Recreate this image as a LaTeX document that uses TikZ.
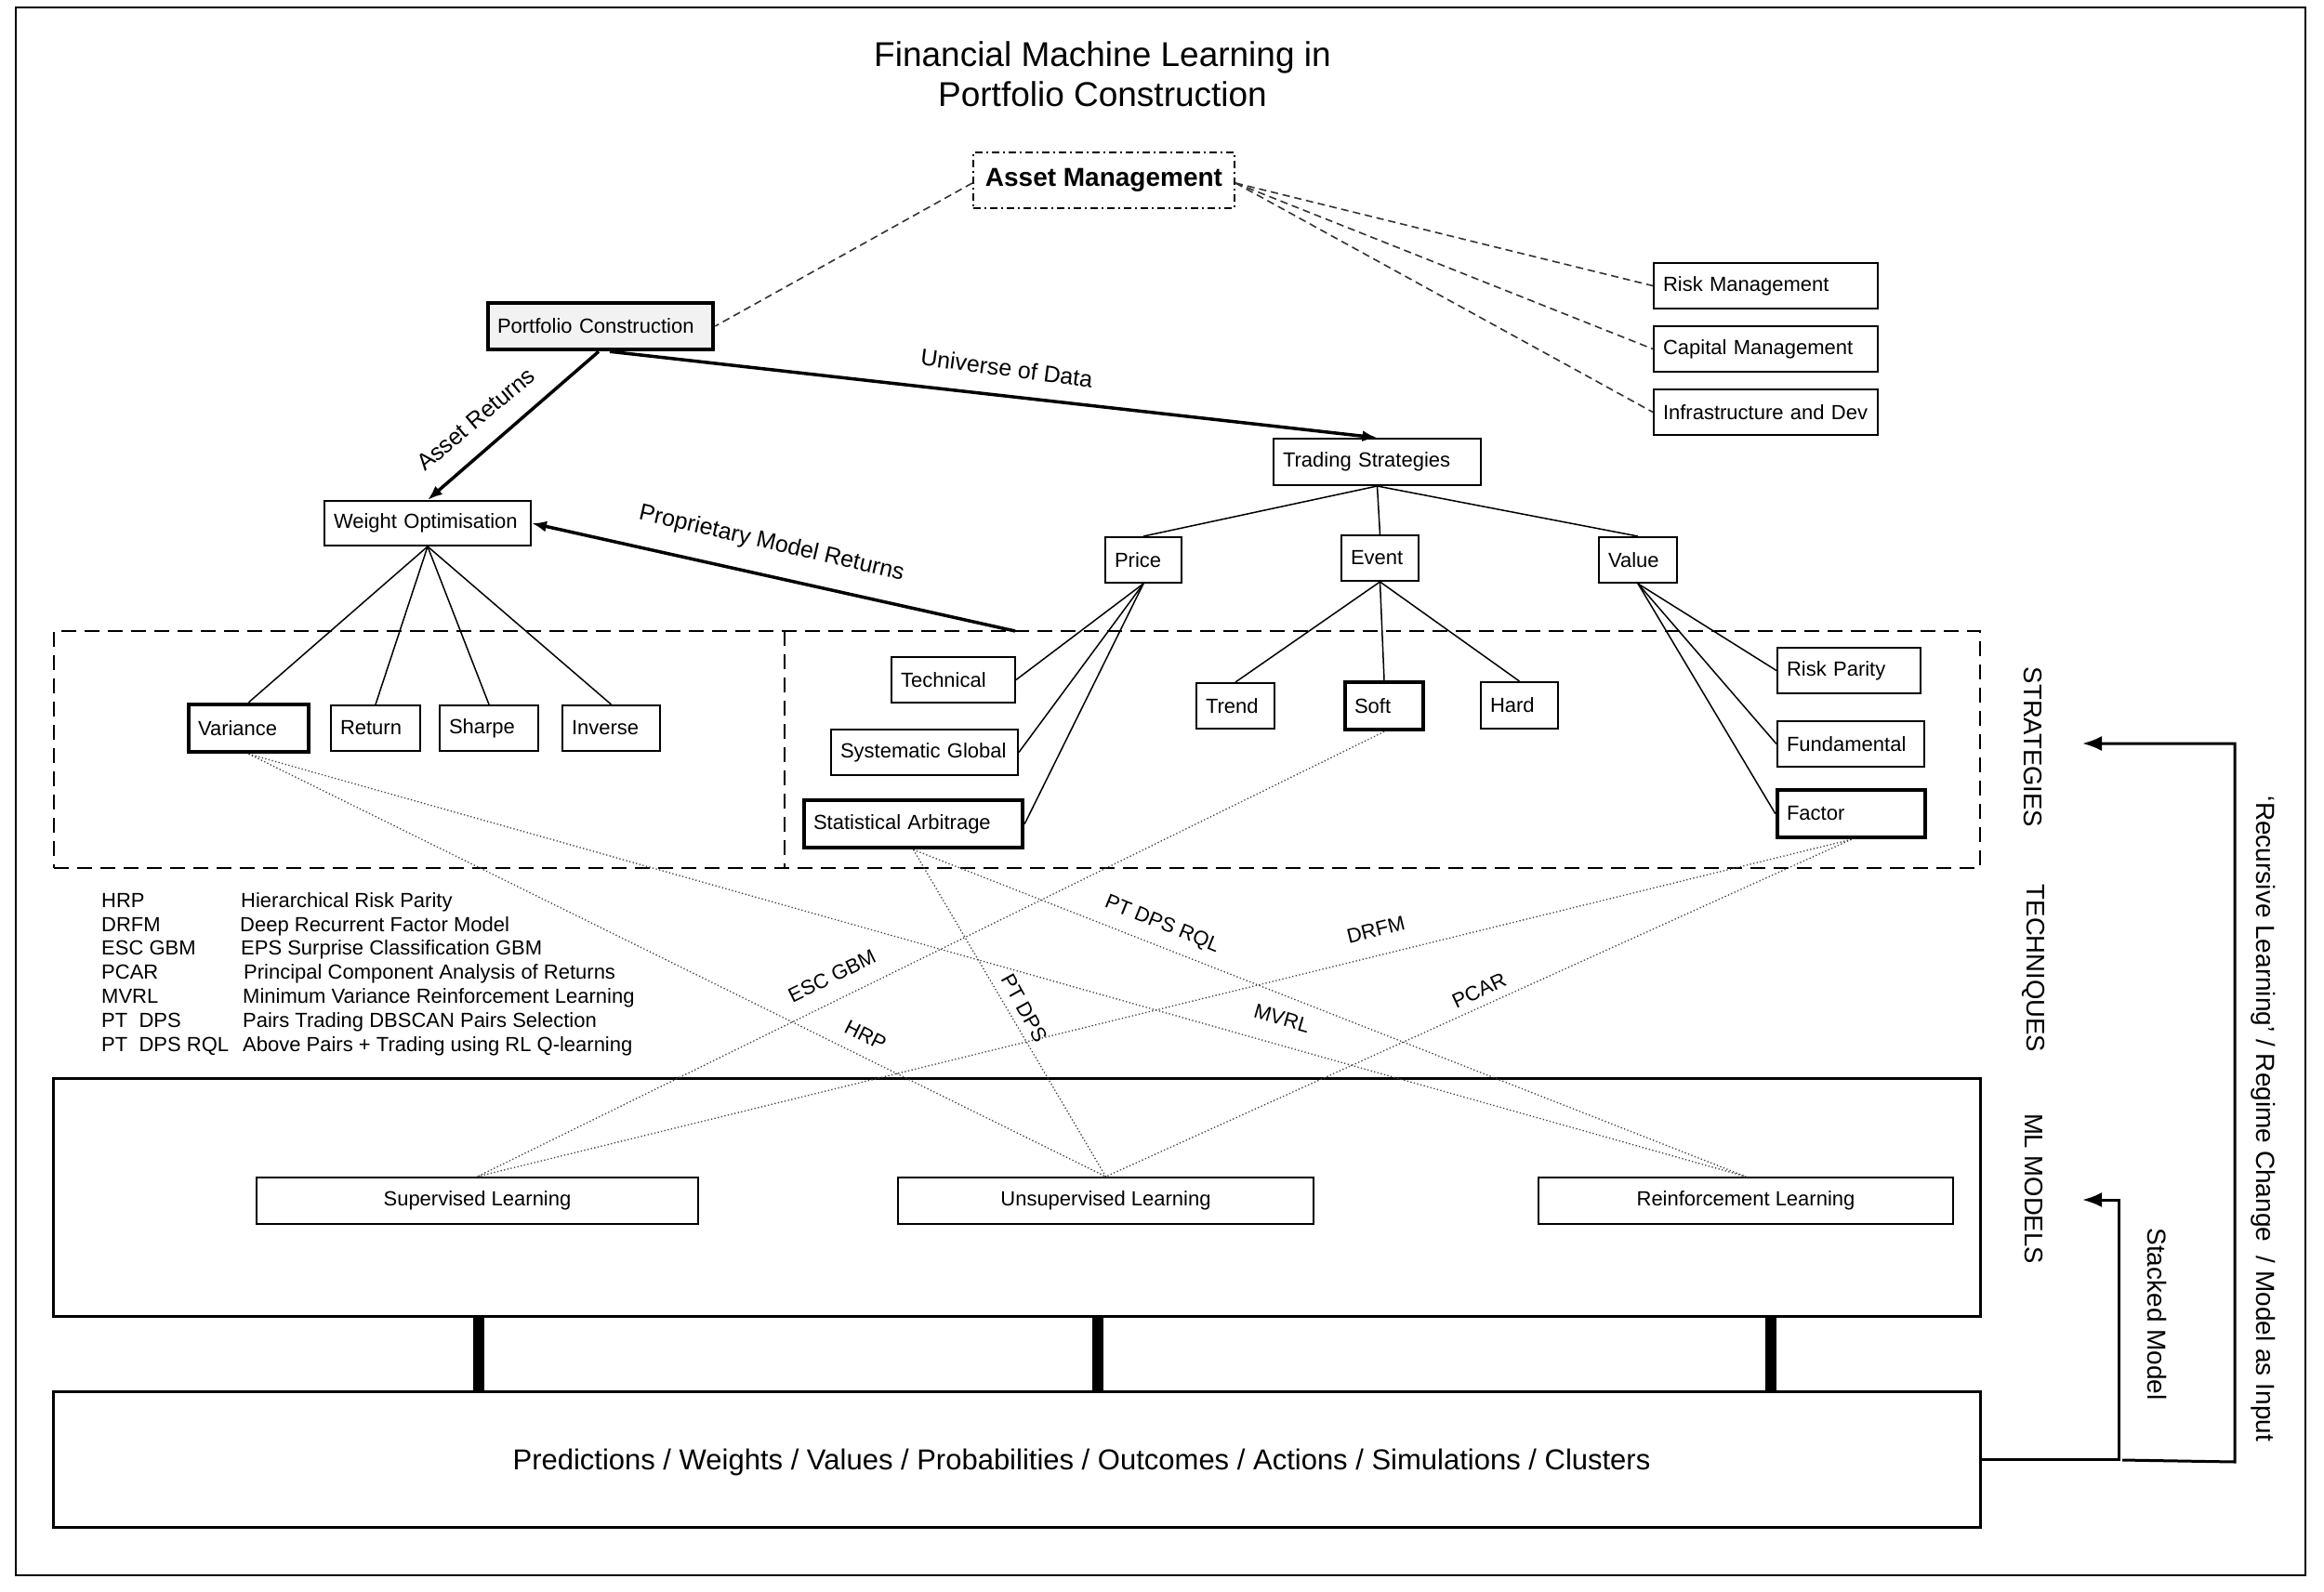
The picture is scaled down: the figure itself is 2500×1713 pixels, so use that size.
\documentclass[tikz,border=0pt]{standalone}
\usepackage{fontspec}
\setmainfont{Liberation Sans}
\usetikzlibrary{arrows.meta,calc}
\begin{document}
\begin{tikzpicture}[x=1pt,y=-1pt]
\tikzset{
  every node/.style={font=\fontsize{22}{26}\selectfont},
  box/.style={draw, line width=2pt, inner xsep=10pt, inner ysep=0pt, align=left},
  tbox/.style={box, line width=4.5pt},
  cbox/.style={draw, line width=2pt, inner sep=0pt, align=center},
  tree/.style={line width=1.5pt},
  amdash/.style={line width=1.6pt, black!80, dash pattern=on 8pt off 5pt},
  dotl/.style={line width=1.3pt, black!75, dash pattern=on 1.3pt off 2.4pt},
  bigarrow/.style={line width=3.5pt, -{Latex[length=16pt,width=12pt]}},
  fbarrow/.style={line width=3pt, -{Latex[length=21pt,width=16pt]}},
  elab/.style={font=\fontsize{25}{30}\selectfont},
  dlab/.style={font=\fontsize{22}{26}\selectfont},
  vlab/.style={rotate=-90, font=\fontsize{27.5}{32}\selectfont},
  barline/.style={line width=12pt},
  leg/.style={anchor=base west, inner sep=0pt},
  dashregion/.style={draw, line width=2.5pt, dash pattern=on 16pt off 9pt, inner sep=0pt},
}
\useasboundingbox (0,0) rectangle (2500,1713);
\draw[line width=2pt] (17,8) rectangle (2480,1695);

% title
\node[align=center, font=\fontsize{37}{43}\selectfont] (title) at (1186,80) {Financial Machine Learning in\\Portfolio Construction};

% dashed strategies region
\node[dashregion, minimum width=2072pt, minimum height=255pt] (strat) at (1094,806.5) {};
\coordinate (divt) at (844,679);
\coordinate (divb) at (844,934);
\draw[line width=2.5pt, dash pattern=on 16pt off 9pt] (divt) -- (divb);

% top nodes
\node[cbox, line width=2.3pt, dash pattern=on 8pt off 4pt on 2pt off 4pt, minimum width=281pt, minimum height=60pt, font=\bfseries\fontsize{28}{32}\selectfont] (am) at (1187.5,194) {Asset Management};
\node[tbox, fill=black!5, text width=222pt, minimum height=50pt] (pc) at (646,351) {Portfolio Construction};
\node[box, text width=202pt, minimum height=48pt] (wo) at (460,563) {Weight Optimisation};
\node[box, text width=203pt, minimum height=50pt] (ts) at (1481.5,497) {Trading Strategies};
\node[box, text width=221pt, minimum height=49pt] (rm) at (1899.5,307.5) {Risk Management};
\node[box, text width=221pt, minimum height=49pt] (cm) at (1899.5,375.5) {Capital Management};
\node[box, text width=221pt, minimum height=49pt] (id) at (1899.5,443.5) {Infrastructure and Dev};

\node[box, text width=62pt, minimum height=49pt] (price) at (1230,602.5) {Price};
\node[box, text width=63pt, minimum height=49pt] (event) at (1484.5,600.5) {Event};
\node[box, text width=64pt, minimum height=49pt] (value) at (1762,602.5) {Value};

% strategy leaves
\node[tbox, text width=109pt, minimum height=51pt] (var) at (267.5,783.5) {Variance};
\node[box, text width=76pt, minimum height=49pt] (ret) at (404,783.5) {Return};
\node[box, text width=86pt, minimum height=49pt] (sha) at (526,783.5) {Sharpe};
\node[box, text width=85pt, minimum height=49pt] (inv) at (657.5,783.5) {Inverse};

\node[box, text width=113pt, minimum height=49pt] (tech) at (1025.5,731.5) {Technical};
\node[box, text width=181pt, minimum height=49pt] (sg) at (994.5,809.5) {Systematic Global};
\node[tbox, text width=215pt, minimum height=51pt] (sa) at (982.5,886.5) {Statistical Arbitrage};

\node[box, text width=64pt, minimum height=49pt] (trend) at (1329,759.5) {Trend};
\node[tbox, text width=64pt, minimum height=51pt] (soft) at (1489,759.5) {Soft};
\node[box, text width=63pt, minimum height=50pt] (hard) at (1634.5,759) {Hard};

\node[box, text width=134pt, minimum height=49pt] (rp) at (1989,721.5) {Risk Parity};
\node[box, text width=138pt, minimum height=49pt] (fund) at (1991,800.5) {Fundamental};
\node[tbox, text width=139pt, minimum height=51pt] (factor) at (1991.5,875.5) {Factor};

% ML models
\node[draw, line width=3pt, minimum width=2073pt, minimum height=256pt, inner sep=0pt] (ml) at (1093.5,1288) {};
\node[cbox, minimum width=475pt, minimum height=50pt] (sup) at (513.5,1292) {Supervised Learning};
\node[cbox, minimum width=447pt, minimum height=50pt] (uns) at (1189.5,1292) {Unsupervised Learning};
\node[cbox, minimum width=446pt, minimum height=50pt] (rl) at (1878,1292) {Reinforcement Learning};

\node[draw, line width=3pt, minimum width=2073pt, minimum height=146pt, inner sep=0pt] (out) at (1093.5,1570) {};
\node[font=\fontsize{31}{36}\selectfont] (outtxt) at ($(out.center)+(70,3)$) {Predictions / Weights / Values / Probabilities / Outcomes / Actions / Simulations / Clusters};

% bars
\coordinate (b1) at (515,0);
\coordinate (b2) at (1181,0);
\coordinate (b3) at (1905,0);
\draw[barline] (ml.south -| b1) -- (out.north -| b1);
\draw[barline] (ml.south -| b2) -- (out.north -| b2);
\draw[barline] (ml.south -| b3) -- (out.north -| b3);

% dashed links from asset management
\draw[amdash] ([yshift=-3pt]am.west) -- (pc.east);
\draw[amdash] ([yshift=-3pt]am.east) -- (rm.west);
\draw[amdash] ([yshift=-3pt]am.east) -- (cm.west);
\draw[amdash] ([yshift=-3pt]am.east) -- (id.west);

% main arrows
\draw[bigarrow] ([xshift=-2pt]pc.south) -- (wo.north);
\draw[bigarrow] ([xshift=10pt]pc.south) -- (ts.north);
\coordinate (pm) at (1092,679);
\draw[bigarrow] (pm) -- (wo.east);
\node[elab, rotate=40] (lar) at (512,451) {Asset Returns};
\node[elab, rotate=-7.5] (lud) at (1083,396) {Universe of Data};
\node[elab, rotate=-13] (lpm) at (830,585) {Proprietary Model Returns};

% tree lines
\draw[tree] (ts.south) -- (price.north);
\draw[tree] (ts.south) -- (event.north);
\draw[tree] (ts.south) -- (value.north);
\draw[tree] (wo.south) -- (var.north);
\draw[tree] (wo.south) -- (ret.north);
\draw[tree] (wo.south) -- (sha.north);
\draw[tree] (wo.south) -- (inv.north);
\draw[tree] (price.south) -- (tech.east);
\draw[tree] (price.south) -- (sg.east);
\draw[tree] (price.south) -- (sa.east);
\draw[tree] (event.south) -- (trend.north);
\draw[tree] (event.south) -- (soft.north);
\draw[tree] (event.south) -- (hard.north);
\draw[tree] (value.south) -- (rp.west);
\draw[tree] (value.south) -- (fund.west);
\draw[tree] (value.south) -- (factor.west);

% dotted technique links
\draw[dotl] (var.south) -- (uns.north);
\draw[dotl] (var.south) -- (rl.north);
\draw[dotl] (soft.south) -- (sup.north);
\draw[dotl] (sa.south) -- (uns.north);
\draw[dotl] (sa.south) -- (rl.north);
\draw[dotl] (factor.south) -- (sup.north);
\draw[dotl] (factor.south) -- (uns.north);
\node[dlab, rotate=-26.5] (lhrp) at (931,1114) {HRP};
\node[dlab, rotate=-16] (lmvrl) at (1379,1096) {MVRL};
\node[dlab, rotate=26] (lesc) at (895,1050) {ESC GBM};
\node[dlab, rotate=-61] (lptd) at (1102,1085) {PT DPS};
\node[dlab, rotate=-22] (lptr) at (1250,995) {PT DPS RQL};
\node[dlab, rotate=14] (ldrfm) at (1480,1000) {DRFM};
\node[dlab, rotate=25] (lpcar) at (1591,1066) {PCAR};

% legend
\node[leg] (k1) at (109,976) {HRP};
\node[leg] (v1) at (259,976) {Hierarchical Risk Parity};
\node[leg] (k2) at (109,1002) {DRFM};
\node[leg] (v2) at (258,1002) {Deep Recurrent Factor Model};
\node[leg] (k3) at (109,1027) {ESC GBM};
\node[leg] (v3) at (259,1027) {EPS Surprise Classification GBM};
\node[leg] (k4) at (109,1053) {PCAR};
\node[leg] (v4) at (262,1053) {Principal Component Analysis of Returns};
\node[leg] (k5) at (109,1079) {MVRL};
\node[leg] (v5) at (261,1079) {Minimum Variance Reinforcement Learning};
\node[leg] (k6) at (109,1105) {PT\ \ DPS};
\node[leg] (v6) at (261,1105) {Pairs Trading DBSCAN Pairs Selection};
\node[leg] (k7) at (109,1131) {PT\ \ DPS RQL};
\node[leg] (v7) at (261,1131) {Above Pairs + Trading using RL Q-learning};

% side labels
\node[vlab] (sstrat) at (2187,804) {STRATEGIES};
\node[vlab] (stech) at (2187,1042) {TECHNIQUES};
\node[vlab] (sml) at (2188,1279) {ML MODELS};
\node[vlab, font=\fontsize{28}{32}\selectfont] (srec) at (2435,1204) {`Recursive Learning' / Regime Change\ \ / Model as Input};
\node[vlab, font=\fontsize{28}{32}\selectfont] (sstk) at (2320,1414) {Stacked Model};

% feedback arrows
\coordinate (stk) at (2240,1291);
\draw[fbarrow] (out.east) -- ++(148,0) |- (stk);
\coordinate (rcs) at (2283,1571);
\coordinate (rcc) at (2404,1573);
\coordinate (rce) at (2240,800);
\draw[fbarrow] (rcs) -- (rcc) |- (rce);
\end{tikzpicture}
\end{document}
